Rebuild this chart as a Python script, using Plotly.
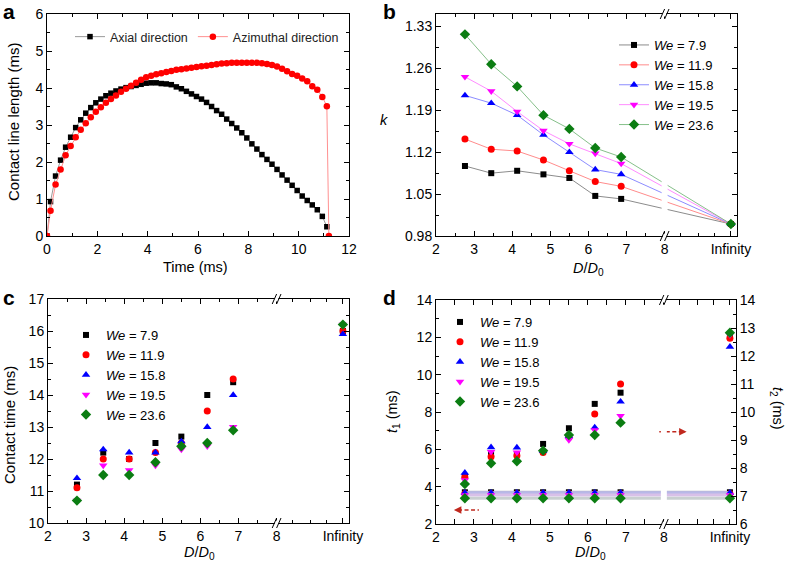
import plotly.graph_objects as go

# ---------------- Panel a: contact line length vs time ----------------
TIME_AXIAL = [0, 0.14, 0.34, 0.54, 0.74, 0.94, 1.14, 1.34, 1.54, 1.74, 1.94,
              2.14, 2.34, 2.54, 2.74, 2.94, 3.14, 3.34, 3.54, 3.74, 3.94,
              4.14, 4.34, 4.54, 4.74, 4.94, 5.14, 5.34, 5.54, 5.74, 5.94,
              6.14, 6.34, 6.54, 6.74, 6.94, 7.14, 7.34, 7.54, 7.74, 7.94,
              8.14, 8.34, 8.54, 8.74, 8.94, 9.14, 9.34, 9.54, 9.74, 9.94,
              10.14, 10.34, 10.54, 10.74, 10.94, 11.12]
LEN_AXIAL = [0, 0.93, 1.62, 2.05, 2.40, 2.67, 2.93, 3.14, 3.32, 3.47, 3.60,
             3.70, 3.79, 3.86, 3.92, 3.97, 4.01, 4.04, 4.07, 4.10, 4.13,
             4.14, 4.14, 4.12, 4.11, 4.09, 4.03, 3.98, 3.91, 3.84, 3.77,
             3.70, 3.61, 3.50, 3.39, 3.29, 3.16, 3.04, 2.92, 2.79, 2.65,
             2.49, 2.35, 2.20, 2.07, 1.94, 1.80, 1.65, 1.51, 1.37, 1.23,
             1.08, 0.96, 0.84, 0.71, 0.53, 0.25]
TIME_AZIM = [0, 0.14, 0.34, 0.54, 0.74, 0.94, 1.14, 1.34, 1.54, 1.74, 1.94,
             2.14, 2.34, 2.54, 2.74, 2.94, 3.14, 3.34, 3.54, 3.74, 3.94,
             4.14, 4.34, 4.54, 4.74, 4.94, 5.14, 5.34, 5.54, 5.74, 5.94,
             6.14, 6.34, 6.54, 6.74, 6.94, 7.14, 7.34, 7.54, 7.74, 7.94,
             8.14, 8.34, 8.54, 8.74, 8.94, 9.14, 9.34, 9.54, 9.74, 9.94,
             10.14, 10.34, 10.54, 10.74, 10.94, 11.12, 11.2]
LEN_AZIM = [0, 0.68, 1.39, 1.80, 2.18, 2.43, 2.67, 2.87, 3.05, 3.21, 3.36,
            3.48, 3.60, 3.70, 3.80, 3.90, 3.98, 4.06, 4.14, 4.22, 4.29,
            4.33, 4.37, 4.40, 4.43, 4.46, 4.49, 4.51, 4.53, 4.55, 4.57,
            4.59, 4.60, 4.62, 4.64, 4.66, 4.67, 4.68, 4.68, 4.68, 4.68,
            4.68, 4.68, 4.67, 4.65, 4.62, 4.58, 4.52, 4.45, 4.38, 4.33,
            4.26, 4.18, 4.05, 3.95, 3.76, 3.51, 0]

# ---------------- Panels b-d: broken D/D0 axis ----------------
DD0 = [2.76, 3.45, 4.13, 4.82, 5.50, 6.18, 6.86, 9.74]   # last one = "Infinity"
X_TICK_VALS = [2, 3, 4, 5, 6, 7, 8, 9.74]
X_TICK_TEXT = ["2", "3", "4", "5", "6", "7", "8", "Infinity"]
X_MINOR_VALS = [2.5, 3.5, 4.5, 5.5, 6.5, 7.5, 8.42, 8.88, 9.3]
X_BREAK = 8
WE_LABELS = ["7.9", "11.9", "15.8", "19.5", "23.6"]

# Panel b: k
K_79 = [1.097, 1.085, 1.089, 1.083, 1.077, 1.047, 1.042, 1.000]
K_119 = [1.142, 1.125, 1.122, 1.107, 1.089, 1.071, 1.063, 1.000]
K_158 = [1.215, 1.202, 1.182, 1.149, 1.120, 1.091, 1.083, 1.000]
K_195 = [1.246, 1.222, 1.188, 1.156, 1.134, 1.118, 1.101, 1.000]
K_236 = [1.317, 1.267, 1.230, 1.182, 1.159, 1.127, 1.112, 1.000]
K_TICKS = [0.98, 1.05, 1.12, 1.19, 1.26, 1.33]

# Panel c: contact time (ms)
TC_79 = [11.2, 12.2, 12.0, 12.5, 12.7, 14.0, 14.4, 16.0]
TC_119 = [11.1, 12.0, 12.0, 12.2, 12.5, 13.5, 14.5, 16.0]
TC_158 = [11.4, 12.3, 12.2, 12.2, 12.55, 13.0, 14.0, 15.9]
TC_195 = [10.7, 11.8, 11.65, 11.8, 12.3, 12.4, 13.0, 16.2]
TC_236 = [10.7, 11.5, 11.5, 11.9, 12.4, 12.5, 12.9, 16.2]

# Panel d: t1 (left axis) and t2 (right axis), ms
T1_79 = [3.70, 3.70, 3.70, 3.70, 3.70, 3.70, 3.70, 3.70]
T1_119 = [3.62, 3.62, 3.62, 3.62, 3.62, 3.62, 3.62, 3.62]
T1_158 = [3.67, 3.67, 3.67, 3.67, 3.67, 3.67, 3.67, 3.67]
T1_195 = [3.55, 3.55, 3.55, 3.55, 3.55, 3.55, 3.55, 3.55]
T1_236 = [3.38, 3.38, 3.38, 3.38, 3.38, 3.38, 3.38, 3.38]
T2_79 = [7.70, 8.50, 8.50, 8.86, 9.42, 10.29, 10.69, 12.70]
T2_119 = [7.67, 8.40, 8.44, 8.55, 9.10, 9.93, 11.00, 12.63]
T2_158 = [7.83, 8.74, 8.73, 8.60, 9.15, 9.45, 10.37, 12.33]
T2_195 = [7.57, 8.58, 8.56, 8.60, 9.00, 9.35, 9.86, 12.75]
T2_236 = [7.43, 8.17, 8.24, 8.62, 9.18, 9.18, 9.62, 12.83]

COLORS = ["#000000", "#ff0000", "#0000ff", "#ff00ff", "#0b7d12"]
LINE_COLORS = ["#8c8c8c", "#ff8c8c", "#8c8cff", "#ff8cff", "#86c08a"]
BAND_COLORS = ["#b8b8c8", "#d8c0d8", "#b8b8e8", "#d8c0e8", "#c8cfd0"]
SYMBOLS = ["square", "circle", "triangle-up", "triangle-down", "diamond"]
SIZES = [6, 7, 7.5, 7.5, 8]

W, H = 788, 570
def px(x):
    return x / W
def py(y):
    return 1 - y / H

FONT = "Liberation Sans, Arial, sans-serif"

fig = go.Figure()

# ---- panel a
fig.add_trace(go.Scatter(x=TIME_AXIAL, y=LEN_AXIAL, mode="lines+markers",
                         name="Axial direction", xaxis="x", yaxis="y", legend="legend",
                         line=dict(color="#9a9a9a", width=1),
                         marker=dict(symbol="square", size=5.5, color="#000000")))
fig.add_trace(go.Scatter(x=TIME_AZIM, y=LEN_AZIM, mode="lines+markers",
                         name="Azimuthal direction", xaxis="x", yaxis="y", legend="legend",
                         line=dict(color="#ff9090", width=1),
                         marker=dict(symbol="circle", size=6.5, color="#ff0000")))

# ---- panel b
for vals, lab, c, lc, s, sz in zip([K_79, K_119, K_158, K_195, K_236], WE_LABELS,
                                    COLORS, LINE_COLORS, SYMBOLS, SIZES):
    fig.add_trace(go.Scatter(x=DD0, y=vals, mode="lines+markers",
                             name="<i>We</i> = " + lab, xaxis="x2", yaxis="y2", legend="legend2",
                             line=dict(color=lc, width=1),
                             marker=dict(symbol=s, size=sz, color=c)))

# ---- panel c
for vals, lab, c, s, sz in zip([TC_79, TC_119, TC_158, TC_195, TC_236], WE_LABELS,
                                COLORS, SYMBOLS, SIZES):
    fig.add_trace(go.Scatter(x=DD0, y=vals, mode="markers",
                             name="<i>We</i> = " + lab, xaxis="x3", yaxis="y3", legend="legend3",
                             marker=dict(symbol=s, size=sz, color=c)))

# ---- panel d: t1 (flat) on left axis
for vals, c, lc, s, sz in zip([T1_79, T1_119, T1_158, T1_195, T1_236],
                               COLORS, BAND_COLORS, SYMBOLS, SIZES):
    fig.add_trace(go.Scatter(x=DD0, y=vals, mode="lines+markers", showlegend=False,
                             xaxis="x4", yaxis="y4",
                             line=dict(color=lc, width=3),
                             marker=dict(symbol=s, size=sz, color=c)))
# t2 on right axis
for vals, lab, c, s, sz in zip([T2_79, T2_119, T2_158, T2_195, T2_236], WE_LABELS,
                                COLORS, SYMBOLS, SIZES):
    fig.add_trace(go.Scatter(x=DD0, y=vals, mode="markers",
                             name="<i>We</i> = " + lab, xaxis="x4", yaxis="y5", legend="legend4",
                             marker=dict(symbol=s, size=sz, color=c)))

minor = dict(ticks="inside", ticklen=3, tickwidth=1, tickcolor="black", showgrid=False)
def axis(**kw):
    d = dict(showline=True, linecolor="black", linewidth=1, mirror="allticks",
             ticks="inside", ticklen=5, tickwidth=1, tickcolor="black",
             showgrid=False, zeroline=False, automargin=False,
             tickfont=dict(size=14, color="black", family=FONT))
    d.update(kw)
    return d

def brk_x(anchor):
    return axis(domain=anchor, range=[2, 9.9], tickmode="array", tickvals=X_TICK_VALS,
                ticktext=X_TICK_TEXT,
                minor=dict(minor, tickmode="array", tickvals=X_MINOR_VALS))

dom_a_x = [px(47), px(349)]
dom_b_x = [px(436), px(737)]
dom_c_x = [px(48), px(349)]
dom_d_x = [px(436), px(736)]
dom_top_y = [py(236), py(14)]
dom_c_y = [py(523), py(299)]
dom_d_y = [py(524), py(300)]

fig.update_layout(
    xaxis=axis(domain=dom_a_x, range=[0, 12], dtick=2, anchor="y",
               minor=dict(minor, dtick=1)),
    yaxis=axis(domain=dom_top_y, range=[0, 6], dtick=1, anchor="x",
               minor=dict(minor, dtick=0.5)),
    xaxis2=dict(brk_x(dom_b_x), anchor="y2"),
    yaxis2=axis(domain=dom_top_y, range=[0.98, 1.351], tickmode="array", tickvals=K_TICKS,
                ticktext=["%.2f" % v for v in K_TICKS], anchor="x2",
                minor=dict(minor, tickmode="array",
                           tickvals=[v + 0.035 for v in K_TICKS])),
    xaxis3=dict(brk_x(dom_c_x), anchor="y3"),
    yaxis3=axis(domain=dom_c_y, range=[10, 17], dtick=1, anchor="x3",
                minor=dict(minor, dtick=0.5)),
    xaxis4=dict(brk_x(dom_d_x), anchor="y4"),
    yaxis4=axis(domain=dom_d_y, range=[2, 14], dtick=2, anchor="x4", mirror=False,
                minor=dict(minor, dtick=1)),
    yaxis5=axis(domain=dom_d_y, range=[6, 14], dtick=1, anchor="x4", overlaying="y4",
                side="right", mirror=False, minor=dict(minor, dtick=0.5)),
)

leg_common = dict(bgcolor="rgba(0,0,0,0)", borderwidth=0, tracegroupgap=0,
                  font=dict(size=13, color="black", family=FONT), itemwidth=30)
fig.update_layout(
    legend=dict(leg_common, orientation="h", x=px(70), y=py(37), xanchor="left",
                yanchor="middle", font=dict(size=12.5, color="#222", family=FONT)),
    legend2=dict(leg_common, x=px(614), y=py(30), xanchor="left", yanchor="top"),
    legend3=dict(leg_common, x=px(66), y=py(320), xanchor="left", yanchor="top"),
    legend4=dict(leg_common, x=px(440), y=py(307), xanchor="left", yanchor="top"),
)

ann = []
def text(x, y, t, size=14, angle=0, bold=False):
    if bold:
        t = "<b>" + t + "</b>"
    ann.append(dict(x=px(x), y=py(y), xref="paper", yref="paper", text=t, showarrow=False,
                    textangle=angle, xanchor="center", yanchor="middle",
                    font=dict(size=size, color="black", family=FONT)))

text(9, 12, "a", 21, bold=True)
text(389, 12, "b", 21, bold=True)
text(9, 297, "c", 21, bold=True)
text(389, 297, "d", 21, bold=True)
text(195, 267, "Time (ms)", 14.5)
text(13, 122, "Contact line length (ms)", 15, angle=-90)
text(588, 269, "<i>D</i>/<i>D</i><sub>0</sub>", 14.5)
text(384, 120, "<i>k</i>", 14.5)
text(199, 553, "<i>D</i>/<i>D</i><sub>0</sub>", 14.5)
text(9, 425, "Contact time (ms)", 15, angle=-90)
text(590, 553, "<i>D</i>/<i>D</i><sub>0</sub>", 14.5)
text(393, 412, "<i>t</i><sub>1</sub> (ms)", 14.5, angle=-90)
text(777, 408, "<i>t</i><sub>2</sub> (ms)", 14.5, angle=90)

ARROW_COLOR = "#c0281e"
# arrows in panel d (left -> t1 axis, right -> t2 axis)
ann.append(dict(x=2.47, y=2.75, ax=2.62, ay=2.75, xref="x4", yref="y4", axref="x4", ayref="y4",
                text="", showarrow=True, arrowhead=2, arrowsize=1, arrowwidth=1.5,
                arrowcolor=ARROW_COLOR))
ann.append(dict(x=8.6, y=6.94, ax=8.45, ay=6.94, xref="x4", yref="y4", axref="x4", ayref="y4",
                text="", showarrow=True, arrowhead=2, arrowsize=1, arrowwidth=1.5,
                arrowcolor=ARROW_COLOR))
fig.update_layout(annotations=ann)

shapes = [
    dict(type="line", xref="x4", yref="y4", x0=2.58, x1=3.13, y0=2.75, y1=2.75,
         line=dict(color=ARROW_COLOR, width=1.5, dash="4px,2.5px")),
    dict(type="line", xref="x4", yref="y4", x0=7.88, x1=8.48, y0=6.94, y1=6.94,
         line=dict(color=ARROW_COLOR, width=1.5, dash="4px,2.5px")),
]
# gaps in connecting lines at the axis break (panels b and d)
for xr, yr in [("x2", "y2"), ("x4", "y4")]:
    shapes.append(dict(type="rect", xref=xr, yref=yr + " domain", xsizemode="pixel",
                       xanchor=X_BREAK, x0=-3, x1=3, y0=0.02, y1=0.98,
                       fillcolor="white", line=dict(width=0), layer="above"))
# break marks "//" on top and bottom axes
for xr, yr in [("x2", "y2"), ("x3", "y3"), ("x4", "y4")]:
    for ya in [0, 1]:
        shapes.append(dict(type="rect", xref=xr, yref=yr + " domain", xsizemode="pixel",
                           ysizemode="pixel", xanchor=X_BREAK, yanchor=ya,
                           x0=-1.8, x1=1.8, y0=-2.5, y1=2.5,
                           fillcolor="white", line=dict(width=0), layer="above"))
        for off in [-2.2, 2.2]:
            shapes.append(dict(type="line", xref=xr, yref=yr + " domain", xsizemode="pixel",
                               ysizemode="pixel", xanchor=X_BREAK, yanchor=ya,
                               x0=off - 2.2, x1=off + 2.2, y0=-5, y1=5,
                               line=dict(color="black", width=1), layer="above"))
fig.update_layout(shapes=shapes)

fig.update_layout(width=W, height=H, margin=dict(l=0, r=0, t=0, b=0),
                  paper_bgcolor="white", plot_bgcolor="white",
                  font=dict(family=FONT, color="black"), showlegend=True)

fig.write_html("out.html", config={"displayModeBar": False},
               post_script="document.body.style.margin='0px';document.body.style.padding='0px';")
